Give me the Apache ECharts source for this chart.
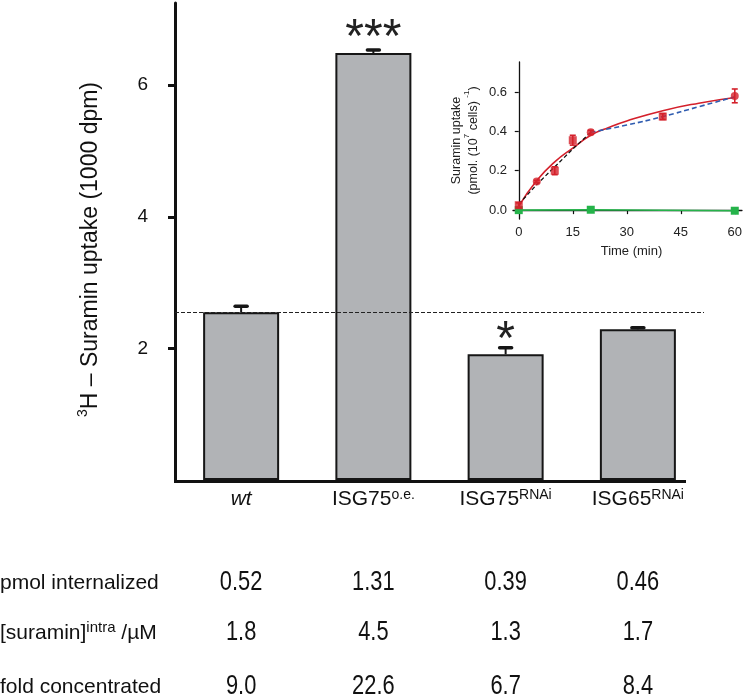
<!DOCTYPE html>
<html><head><meta charset="utf-8">
<script src="https://cdn.jsdelivr.net/npm/echarts@6/dist/echarts.min.js"></script>
<style>html,body{margin:0;padding:0;background:#fff}#c{width:745px;height:699px}</style>
</head><body><div id="c"></div>
<script>
// ---- main bar chart data ----
const categoryBase = ['wt', 'ISG75', 'ISG75', 'ISG65'];
const categorySup = ['', 'o.e.', 'RNAi', 'RNAi'];
const categories = ['wt', 'ISG75o.e.', 'ISG75RNAi', 'ISG65RNAi'];
const uptake = [2.55, 6.49, 1.91, 2.29];
const uptakeErr = [0.09, 0.045, 0.10, 0.025];
const stars = ['', '***', '*', ''];
const referenceLevel = 2.55;
const yTickValues = [2, 4, 6];

// ---- table below ----
const rowLabels = ['pmol internalized', '[suramin]', 'fold concentrated'];
const rowLabelSup = ['', 'intra', ''];
const rowLabelSuffix = ['', ' /µM', ''];
const pmolInternalized = ['0.52', '1.31', '0.39', '0.46'];
const suraminIntra = ['1.8', '4.5', '1.3', '1.7'];
const foldConcentrated = ['9.0', '22.6', '6.7', '8.4'];

// ---- inset data ----
const insetXTicks = [0, 15, 30, 45, 60];
const insetYTicks = [0, 0.2, 0.4, 0.6];
const redTime = [0, 5, 10, 15, 20, 40, 60];
const redMean = [0.025, 0.145, 0.20, 0.355, 0.395, 0.475, 0.58];
const redErr = [0.012, 0.006, 0.02, 0.025, 0.01, 0.015, 0.035];
const redSymbol = ['rect', 'circle', 'rect', 'rect', 'circle', 'rect', 'circle'];
const fitTime = [0, 5, 10, 15, 20, 25, 30, 40, 50, 60];
const fitRed = [0.02, 0.15, 0.245, 0.315, 0.38, 0.42, 0.453, 0.505, 0.543, 0.572];
const blackDashTime = [0, 5, 10, 15, 20];
const blackDash = [0.03, 0.13, 0.22, 0.31, 0.395];
const blueDashTime = [20, 30, 40, 50, 60];
const blueDash = [0.395, 0.432, 0.475, 0.525, 0.575];
const greenTime = [0, 20, 60];
const greenMean = [0.0, 0.002, -0.003];

const FONT = 'Liberation Sans, Arial, Helvetica, sans-serif';
const RED = '#d4202b', GREEN = '#25b34a', BLUE = '#2f5cb0';

const chart = echarts.init(document.getElementById('c'), null, {renderer: 'canvas'});

function pairs(xs, ys) { return xs.map((x, i) => [x, ys[i]]); }

const option = {
  animation: false,
  backgroundColor: '#fff',
  textStyle: {fontFamily: FONT},
  grid: [
    {left: 175, top: 3, width: 529, height: 477, containLabel: false},
    {left: 513, top: 62, width: 232, height: 157, containLabel: false}
  ],
  xAxis: [
    {
      type: 'category', gridIndex: 0, data: categories,
      axisLine: {show: false}, axisTick: {show: false},
      axisLabel: {
        interval: 0, margin: 8, color: '#111', fontFamily: FONT,
        formatter: (v, i) => i === 0 ? '{it|wt}' : '{b|' + categoryBase[i] + '}{sup|' + categorySup[i] + '}',
        rich: {
          it: {fontSize: 21, fontStyle: 'italic', color: '#111', fontFamily: FONT, lineHeight: 22},
          b: {fontSize: 21, color: '#111', fontFamily: FONT, verticalAlign: 'bottom', lineHeight: 22},
          sup: {fontSize: 14, color: '#111', fontFamily: FONT, verticalAlign: 'top', lineHeight: 22}
        }
      }
    },
    {
      type: 'value', gridIndex: 1, min: -1.6, max: 62,
      axisLine: {show: true, lineStyle: {color: '#111', width: 1.3}},
      axisTick: {show: true, length: 4, customValues: insetXTicks, lineStyle: {color: '#111', width: 1.2}},
      axisLabel: {customValues: insetXTicks, fontSize: 13, color: '#222', margin: 7, fontFamily: FONT},
      splitLine: {show: false},
      name: 'Time (min)', nameLocation: 'middle', nameGap: 26,
      nameTextStyle: {fontSize: 13, color: '#222', fontFamily: FONT, padding: [0, 0, 0, 8]}
    }
  ],
  yAxis: [
    {
      type: 'value', gridIndex: 0, min: 0, max: 7.25,
      axisLine: {show: true, lineStyle: {color: '#111', width: 3}},
      axisTick: {show: true, length: 7, customValues: yTickValues, lineStyle: {color: '#111', width: 3}},
      axisLabel: {customValues: yTickValues, fontSize: 19, color: '#111', margin: 27, fontFamily: FONT},
      splitLine: {show: false},
      name: '{sup|3}{n|H – Suramin uptake (1000 dpm)}', nameLocation: 'middle', nameGap: 73, nameRotate: 90,
      nameTextStyle: {
        fontFamily: FONT, color: '#111', padding: [0, 16, 0, 0],
        rich: {
          n: {fontSize: 23, color: '#111', fontFamily: FONT, lineHeight: 26, verticalAlign: 'bottom'},
          sup: {fontSize: 14, color: '#111', fontFamily: FONT, lineHeight: 26, verticalAlign: 'top'}
        }
      }
    },
    {
      type: 'value', gridIndex: 1, min: -0.045, max: 0.752,
      axisLine: {show: true, lineStyle: {color: '#111', width: 1.3}},
      axisTick: {show: true, length: 4, customValues: insetYTicks, lineStyle: {color: '#111', width: 1.2}},
      axisLabel: {customValues: insetYTicks, fontSize: 13, color: '#222', margin: 6, fontFamily: FONT,
        formatter: v => Number(v).toFixed(1)},
      splitLine: {show: false},
      name: '{a|Suramin uptake}\n{a|(pmol. (10}{s|7}{a| cells) }{s|-1}{a|)}',
      nameLocation: 'middle', nameGap: 33, nameRotate: 90,
      nameTextStyle: {
        fontFamily: FONT, color: '#222', align: 'center',
        rich: {
          a: {fontSize: 12.5, color: '#222', fontFamily: FONT, lineHeight: 17, verticalAlign: 'bottom'},
          s: {fontSize: 8, color: '#222', fontFamily: FONT, lineHeight: 17, verticalAlign: 'top'}
        }
      }
    }
  ],
  series: [
    {
      type: 'line', xAxisIndex: 0, yAxisIndex: 0, data: [], z: 1, silent: true,
      markLine: {
        symbol: 'none', silent: true, label: {show: false},
        lineStyle: {color: '#222', width: 1, type: [4, 2]},
        data: [{yAxis: referenceLevel}]
      }
    },
    {
      type: 'bar', xAxisIndex: 0, yAxisIndex: 0, z: 3, barWidth: 76,
      data: uptake,
      itemStyle: {color: '#b1b3b6', borderColor: '#161616', borderWidth: 2},
      label: {
        show: true, position: 'top', distance: -10, formatter: p => stars[p.dataIndex],
        fontSize: 48, color: '#222', fontFamily: FONT, lineHeight: 48
      }
    },
    {
      type: 'custom', xAxisIndex: 0, yAxisIndex: 0, z: 4,
      data: uptake.map((v, i) => [i, v, uptakeErr[i]]),
      renderItem: (params, api) => {
        const base = api.coord([api.value(0), api.value(1)]);
        const top = api.coord([api.value(0), api.value(1) + api.value(2)]);
        return {
          type: 'group', children: [
            {type: 'line', shape: {x1: base[0], y1: base[1], x2: top[0], y2: top[1]}, style: {stroke: '#161616', lineWidth: 2}},
            {type: 'line', shape: {x1: top[0] - 6, y1: top[1], x2: top[0] + 6, y2: top[1]}, style: {stroke: '#161616', lineWidth: 3.5, lineCap: 'round'}}
          ]
        };
      }
    },
    // inset series
    {
      type: 'line', xAxisIndex: 1, yAxisIndex: 1, data: pairs(fitTime, fitRed), smooth: true,
      symbol: 'none', lineStyle: {color: RED, width: 1.6}, z: 5
    },
    {
      type: 'line', xAxisIndex: 1, yAxisIndex: 1, data: pairs(blueDashTime, blueDash), smooth: true,
      symbol: 'none', lineStyle: {color: BLUE, width: 1.6, type: [5, 3]}, z: 5
    },
    {
      type: 'line', xAxisIndex: 1, yAxisIndex: 1, data: pairs(blackDashTime, blackDash),
      symbol: 'none', lineStyle: {color: '#111', width: 1.3, type: [4, 2.5]}, z: 6
    },
    {
      type: 'line', xAxisIndex: 1, yAxisIndex: 1, data: pairs(greenTime, greenMean),
      symbol: 'rect', symbolSize: 8, showAllSymbol: true,
      itemStyle: {color: GREEN}, lineStyle: {color: GREEN, width: 1.6}, z: 6
    },
    {
      type: 'custom', xAxisIndex: 1, yAxisIndex: 1, z: 7,
      data: redTime.map((t, i) => [t, redMean[i], redErr[i]]),
      renderItem: (params, api) => {
        const lo = api.coord([api.value(0), api.value(1) - api.value(2)]);
        const hi = api.coord([api.value(0), api.value(1) + api.value(2)]);
        const st = {stroke: RED, lineWidth: 1.6};
        return {
          type: 'group', children: [
            {type: 'line', shape: {x1: lo[0], y1: lo[1], x2: hi[0], y2: hi[1]}, style: st},
            {type: 'line', shape: {x1: lo[0] - 3, y1: lo[1], x2: lo[0] + 3, y2: lo[1]}, style: st},
            {type: 'line', shape: {x1: hi[0] - 3, y1: hi[1], x2: hi[0] + 3, y2: hi[1]}, style: st}
          ]
        };
      }
    },
    {
      type: 'scatter', xAxisIndex: 1, yAxisIndex: 1, z: 8,
      data: redTime.map((t, i) => ({value: [t, redMean[i]], symbol: redSymbol[i]})),
      symbolSize: 8, itemStyle: {color: RED}
    }
  ]
};

chart.setOption(option);

// table below the chart, aligned to the category axis
const centers = categories.map(c => chart.convertToPixel({xAxisIndex: 0}, c));
const rowValues = [pmolInternalized, suraminIntra, foldConcentrated];
const rowY = [582, 632, 686];
const graphics = [];
rowLabels.forEach((lab, r) => {
  graphics.push({
    type: 'text', x: 0, y: rowY[r],
    style: {
      text: '{a|' + lab + '}' + (rowLabelSup[r] ? '{s|' + rowLabelSup[r] + '}' : '') + (rowLabelSuffix[r] ? '{a|' + rowLabelSuffix[r] + '}' : ''),
      align: 'left', verticalAlign: 'middle',
      rich: {
        a: {fontSize: 21, fontFamily: FONT, fill: '#111', lineHeight: 24, verticalAlign: 'bottom'},
        s: {fontSize: 15, fontFamily: FONT, fill: '#111', lineHeight: 24, verticalAlign: 'top'}
      }
    }
  });
  rowValues[r].forEach((v, i) => {
    graphics.push({
      type: 'text', x: centers[i], y: rowY[r], scaleX: 0.78,
      style: {x: 0, y: 0, text: v, align: 'center', verticalAlign: 'middle', font: '28px ' + FONT, fill: '#111'}
    });
  });
});
// main x axis line
const x0 = chart.convertToPixel({yAxisIndex: 0}, 0);
graphics.push({type: 'line', shape: {x1: 174, y1: x0 + 1.5, x2: 686, y2: x0 + 1.5}, style: {stroke: '#111', lineWidth: 3}});
chart.setOption({graphic: graphics});
</script>
</body></html>
